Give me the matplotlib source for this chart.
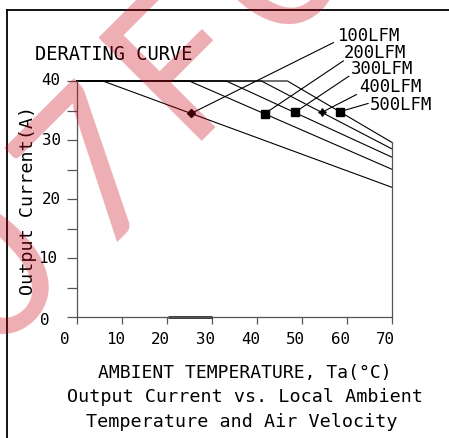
import numpy as np
import matplotlib
matplotlib.use("Agg")
import matplotlib.pyplot as plt
from matplotlib.lines import Line2D
from matplotlib.transforms import offset_copy

# ---------------- data ----------------
series = ["100LFM", "200LFM", "300LFM", "400LFM", "500LFM"]
derate_start_T = [5.8, 25.0, 33.2, 41.0, 46.8]     # temperature where derating begins
current_at_70 = [22.0, 25.05, 27.1, 28.5, 29.6]    # current at 70 C
max_current = 40
t_max = 70
marker_T = [25.4, 41.7, 48.4, 54.4, 58.4]
marker_styles = ["D", "s", "s", (4, 1, 0), "s"]
x_ticks = [0, 10, 20, 30, 40, 50, 60, 70]
y_ticks = [0, 10, 20, 30, 40]
y_minor = [5, 15, 25, 35]

W, H, DPI = 449, 438, 100
fig = plt.figure(figsize=(W / DPI, H / DPI), dpi=DPI)
FONT = "DejaVu Sans Mono"

def px(x, y):
    return x / W, 1 - y / H

ax = fig.add_axes([76.7 / W, (H - 317.3) / H, (392 - 76.7) / W, (317.3 - 81) / H])
ax.set_xlim(0, t_max)
ax.set_ylim(0, max_current)
ax.patch.set_alpha(0)
AX_C = "#555555"
ax.spines["top"].set_visible(False)
for s in ["left", "bottom", "right"]:
    ax.spines[s].set_color(AX_C)
    ax.spines[s].set_linewidth(0.9)
ax.spines["right"].set_bounds(0, current_at_70[-1])

ax.set_xticks(x_ticks)
ax.set_yticks(sorted(y_ticks + y_minor))
ax.tick_params(axis="x", direction="out", length=5.2, width=0.9, color=AX_C, labelbottom=False)
ax.tick_params(axis="y", direction="out", length=7.2, width=0.9, color=AX_C, labelleft=False)

# curves
for st, end in zip(derate_start_T, current_at_70):
    ax.plot([0, st, t_max], [max_current, max_current, end], color="black", lw=0.8,
            clip_on=False, solid_joinstyle="miter")

# markers + leaders + labels
leader_end = [(57.0, 46.5), (59.2, 43.4), (60.4, 40.8), (62.1, 37.7), (64.7, 36.2)]
label_pos = [(58.0, 47.7), (59.3, 44.8), (60.8, 42.0), (62.7, 39.0), (65.1, 35.9)]
for i, name in enumerate(series):
    xs = [0, derate_start_T[i], t_max]
    ys = [max_current, max_current, current_at_70[i]]
    mi = np.interp(marker_T[i], xs, ys)
    ax.plot([marker_T[i], leader_end[i][0]], [mi, leader_end[i][1]], color="black", lw=0.8, clip_on=False)
    ms = 5.5 if marker_styles[i] != "D" else 4.5
    ax.plot([marker_T[i]], [mi], marker=marker_styles[i], color="black", ms=ms, clip_on=False)
    ax.text(label_pos[i][0], label_pos[i][1], name, fontsize=12.4, family=FONT,
            ha="left", va="center", clip_on=False)

# thick segment on the x axis
ax.plot([20.2, 30.1], [0, 0], color="black", lw=1.8, clip_on=False, solid_capstyle="butt")

# x tick labels
for t in x_ticks:
    dx = -12 if t == 0 else -6.5
    tr = offset_copy(ax.get_xaxis_transform(), fig=fig, x=dx * 0.72, y=-22 * 0.72, units="points")
    ax.text(t, 0, str(t), transform=tr, ha="center", va="center", fontsize=11.4, family=FONT)

# y tick labels
ylab_dx = [-31.7, -29, -25.7, -25.7, -25.7]
ylab_dy = [-3.4, -0.4, 0, 0, 1]
for v, dx, dy in zip(y_ticks, ylab_dx, ylab_dy):
    tr = offset_copy(ax.get_yaxis_transform(), fig=fig, x=dx * 0.72, y=dy * 0.72, units="points")
    ax.text(0, v, str(v), transform=tr, ha="center", va="center", fontsize=11.4, family=FONT)

# texts
fig.text(*px(35, 54.5), "DERATING CURVE", fontsize=13.5, family=FONT, ha="left", va="center")
fig.text(*px(27.7, 200.8), "Output Current(A)", fontsize=13.2, family=FONT, rotation=90,
         ha="center", va="center")
fig.text(*px(244.5, 373), "AMBIENT TEMPERATURE, Ta(°C)", fontsize=13, family=FONT, ha="center", va="center")
fig.text(*px(245, 397), "Output Current vs. Local Ambient", fontsize=13.2, family=FONT, ha="center", va="center")
fig.text(*px(242, 422), "Temperature and Air Velocity", fontsize=13.2, family=FONT, ha="center", va="center")

# frame lines
fig.add_artist(Line2D([7 / W, 1], [1 - 10 / H, 1 - 10 / H], color="black", lw=1.3))
fig.add_artist(Line2D([7 / W, 7 / W], [1 - 10 / H, 0], color="black", lw=1.3))

# watermark (rotated 45 deg)
def rot_to_px(Xp, Yp):
    return (Xp - Yp) / np.sqrt(2), -(Xp + Yp) / np.sqrt(2)

wm_chars = ["0", "7", "F", "0"]
wm_X = [-258, -109, 30, 164]
wm_Y = [-245, -245, -229, -229]
for ch, Xp, Yp in zip(wm_chars, wm_X, wm_Y):
    x, y = rot_to_px(Xp, Yp)
    fig.text(x / W, 1 - y / H, ch, fontsize=146, family="Lato", fontweight="normal", rotation=45,
             rotation_mode="anchor", ha="left", va="baseline",
             color=(0.78, 0.0, 0.08), alpha=0.32, zorder=10)

fig.savefig("out.png", dpi=DPI)
